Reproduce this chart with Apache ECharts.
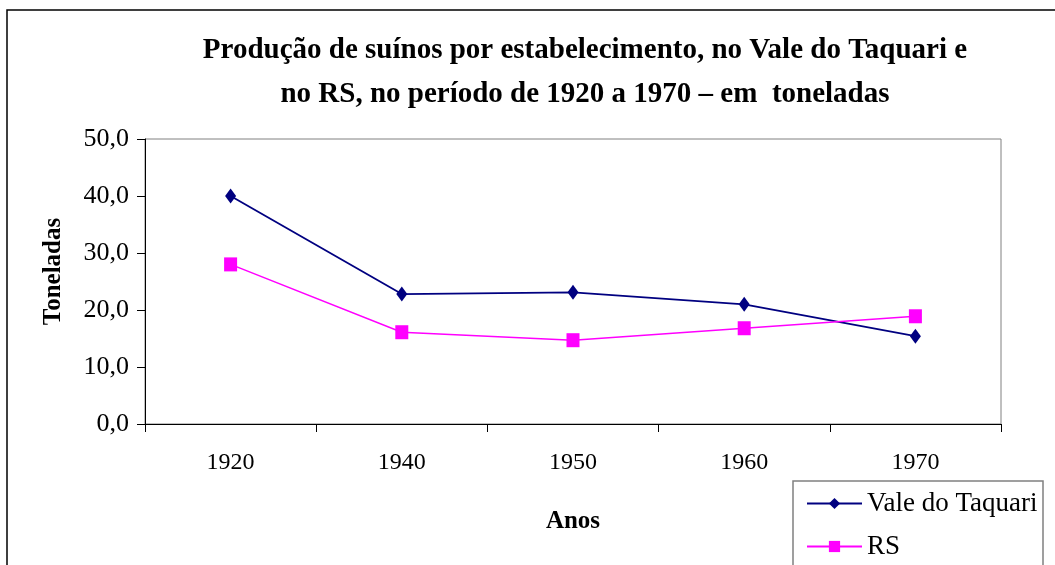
<!DOCTYPE html>
<html>
<head>
<meta charset="utf-8">
<script src="https://cdn.jsdelivr.net/npm/echarts@6/dist/echarts.min.js"></script>
<style>html,body{margin:0;padding:0;background:#fff}#c{width:1055px;height:565px}</style>
</head>
<body>
<div id="c"></div>
<script>
const years = ['1920', '1940', '1950', '1960', '1970'];
const valeTaquari = [40.0, 22.8, 23.1, 21.0, 15.4];
const rs = [28.0, 16.1, 14.7, 16.8, 18.9];
const titleText = 'Produção de suínos por estabelecimento, no Vale do Taquari e\nno RS, no período de 1920 a 1970 – em  toneladas';
const font = '"Liberation Serif", "Times New Roman", serif';

const chart = echarts.init(document.getElementById('c'), null, {renderer: 'canvas'});
chart.setOption({
  backgroundColor: '#fff',
  animation: false,
  graphic: [
    {type: 'rect', shape: {x: 7, y: 10, width: 1100, height: 600},
      style: {fill: 'none', stroke: '#000', lineWidth: 1.5}, z: 0},
    {type: 'rect', shape: {x: 793, y: 481, width: 250, height: 200},
      style: {fill: '#fff', stroke: '#808080', lineWidth: 1.5}, z: 1}
  ],
  title: {
    text: titleText, left: 580, top: 24, textAlign: 'center',
    textStyle: {fontFamily: font, fontWeight: 'bold', fontSize: 29, lineHeight: 44, color: '#000'}
  },
  grid: {left: 145, right: 54, top: 139, bottom: 141, show: true, borderColor: '#808080', borderWidth: 1, backgroundColor: '#fff'},
  legend: {
    left: 793, top: 481, orient: 'vertical', z: 5,
    padding: [9, 2, 0, 13], itemGap: 16,
    itemWidth: 55, itemHeight: 14,
    textStyle: {fontFamily: font, fontSize: 27, color: '#000', lineHeight: 27},
    data: ['Vale do Taquari', 'RS']
  },
  xAxis: {
    type: 'category', data: years, boundaryGap: true,
    name: 'Anos', nameLocation: 'middle', nameGap: 85,
    nameTextStyle: {fontFamily: font, fontWeight: 'bold', fontSize: 25, color: '#000'},
    axisLine: {lineStyle: {color: '#000', width: 1}},
    axisTick: {show: true, length: 8, inside: false, lineStyle: {color: '#000'}},
    axisLabel: {fontFamily: font, fontSize: 24, color: '#000', margin: 27}
  },
  yAxis: {
    type: 'value', min: 0, max: 50, interval: 10,
    name: 'Toneladas', nameLocation: 'middle', nameGap: 79,
    nameTextStyle: {fontFamily: font, fontWeight: 'bold', fontSize: 25, color: '#000', padding: [0, 0, 0, 20]},
    axisLine: {show: true, lineStyle: {color: '#000', width: 1}},
    axisTick: {show: true, length: 8, lineStyle: {color: '#000'}},
    splitLine: {show: false},
    axisLabel: {fontFamily: font, fontSize: 26, color: '#000', margin: 16,
      formatter: v => v.toFixed(1).replace('.', ',')}
  },
  series: [
    {name: 'Vale do Taquari', type: 'line', data: valeTaquari,
      symbol: 'diamond', symbolSize: [11, 15],
      lineStyle: {color: '#000080', width: 1.8},
      itemStyle: {color: '#000080'}},
    {name: 'RS', type: 'line', data: rs,
      symbol: 'rect', symbolSize: [13, 14],
      lineStyle: {color: '#FF00FF', width: 1.5},
      itemStyle: {color: '#FF00FF'}}
  ]
});
</script>
</body>
</html>
